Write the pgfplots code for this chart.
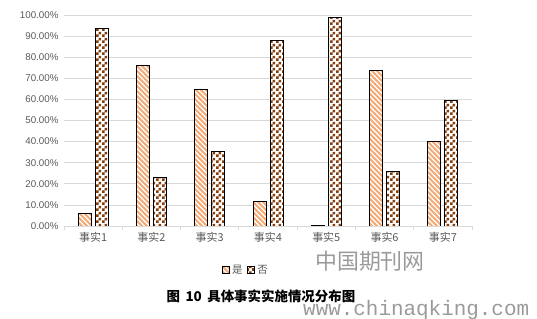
\documentclass[border=0pt]{standalone}
\usepackage{pgfplots}
\pgfplotsset{compat=1.18}
\usepackage{fontspec}
\setmainfont{Liberation Sans}
\newfontfamily\cjk{Noto Sans CJK SC}
\newfontfamily\mono{Liberation Mono}
\usetikzlibrary{patterns.meta}
\definecolor{stripe}{HTML}{F4AB78}
\definecolor{checker}{HTML}{843C0C}
\definecolor{txtgray}{HTML}{595959}
\definecolor{gridgray}{HTML}{D9D9D9}
\definecolor{wmgray}{HTML}{9A9A9A}

\pgfdeclarepattern{
  name=mystripes, type=uncolored,
  bottom left={\pgfpoint{-1bp}{-1bp}}, top right={\pgfpoint{6bp}{6bp}},
  tile size={\pgfpoint{5bp}{5bp}},
  code={
    \pgfsetlinewidth{1.9bp}
    \pgfpathmoveto{\pgfpoint{-0.6bp}{5.6bp}}\pgfpathlineto{\pgfpoint{5.6bp}{-0.6bp}}
    \pgfusepath{stroke}
  }
}
\pgfdeclarepattern{
  name=mychecks, type=uncolored,
  bottom left={\pgfpoint{0bp}{0bp}}, top right={\pgfpoint{6bp}{6bp}},
  tile size={\pgfpoint{6bp}{6bp}},
  code={
    \pgfpathrectangle{\pgfpoint{0bp}{0bp}}{\pgfpoint{3bp}{3bp}}
    \pgfpathrectangle{\pgfpoint{3bp}{3bp}}{\pgfpoint{3bp}{3bp}}
    \pgfusepath{fill}
  }
}
\pgfplotsset{sqlegend/.style={legend image code/.code={\draw[##1,line width=0.8bp] (0bp,-3.5bp) rectangle (7bp,3.5bp);}}}

\pgfplotstableread{
x yes no
0 5.7 93.7
1 76.1 23.2
2 64.5 35.1
3 11.4 88.0
4 0.4 99.0
5 73.8 25.6
6 40.1 59.7
}\facts

\begin{document}
\begin{tikzpicture}
\path[use as bounding box] (0,0) rectangle (537bp,319bp);
\begin{axis}[
  at={(64bp,93bp)}, anchor=south west,
  width=408bp, height=211bp, scale only axis,
  ymin=0, ymax=100, ytick={0,10,...,100},
  xmin=-0.5, xmax=6.5, xtick={0,...,6},
  xticklabels={事实1,事实2,事实3,事实4,事实5,事实6,事实7},
  ybar=4bp, bar width=13bp,
  ymajorgrids, grid style={gridgray, line width=0.75bp},
  axis x line*=bottom, axis y line*=left,
  axis line style={-},
  x axis line style={gridgray, line width=0.75bp},
  y axis line style={draw=none},
  major tick length=0pt,
  extra x ticks={-0.5,0.5,...,6.5},
  extra x tick labels={},
  extra x tick style={major tick length=4bp, tick align=outside, grid=none,
     tick style={gridgray, line width=0.75bp}},
  /pgf/number format/assume math mode=true,
  yticklabel={\pgfmathprintnumber[fixed,fixed zerofill,precision=2]{\tick}\%},
  yticklabel style={font=\fontsize{9.8}{11}\selectfont, text=txtgray, xshift=-2bp},
  xticklabel style={font=\cjk\fontsize{11}{13}\selectfont, text=txtgray, yshift=-3bp},
  legend style={draw=none, at={(0.446,-0.2085)}, anchor=center,
     legend columns=-1, font=\cjk\fontsize{10.5}{12}\selectfont, text=txtgray,
     /tikz/every even column/.append style={column sep=3bp},
     inner sep=1bp},
]
\addplot[draw=black, line width=1bp, preaction={fill=white},
  pattern=mystripes, pattern color=stripe, sqlegend]
  table[x=x,y=yes]{\facts};
\addlegendentry{是}
\addplot[draw=black, line width=1bp, preaction={fill=white},
  pattern=mychecks, pattern color=checker, sqlegend]
  table[x=x,y=no]{\facts};
\addlegendentry{否}
\end{axis}
\node at (261bp,23bp) {\cjk\bfseries\fontsize{13.5}{16}\selectfont 图\hspace{0.4em}10\hspace{0.4em}具体事实实施情况分布图};
\node[text=wmgray] at (370bp,58bp) {\cjk\fontsize{22}{24}\selectfont 中国期刊网};
\node[text=wmgray, anchor=west, inner sep=0pt] at (303bp,9bp) {\mono\fontsize{21}{22}\selectfont www.chinaqking.com};
\end{tikzpicture}
\end{document}
